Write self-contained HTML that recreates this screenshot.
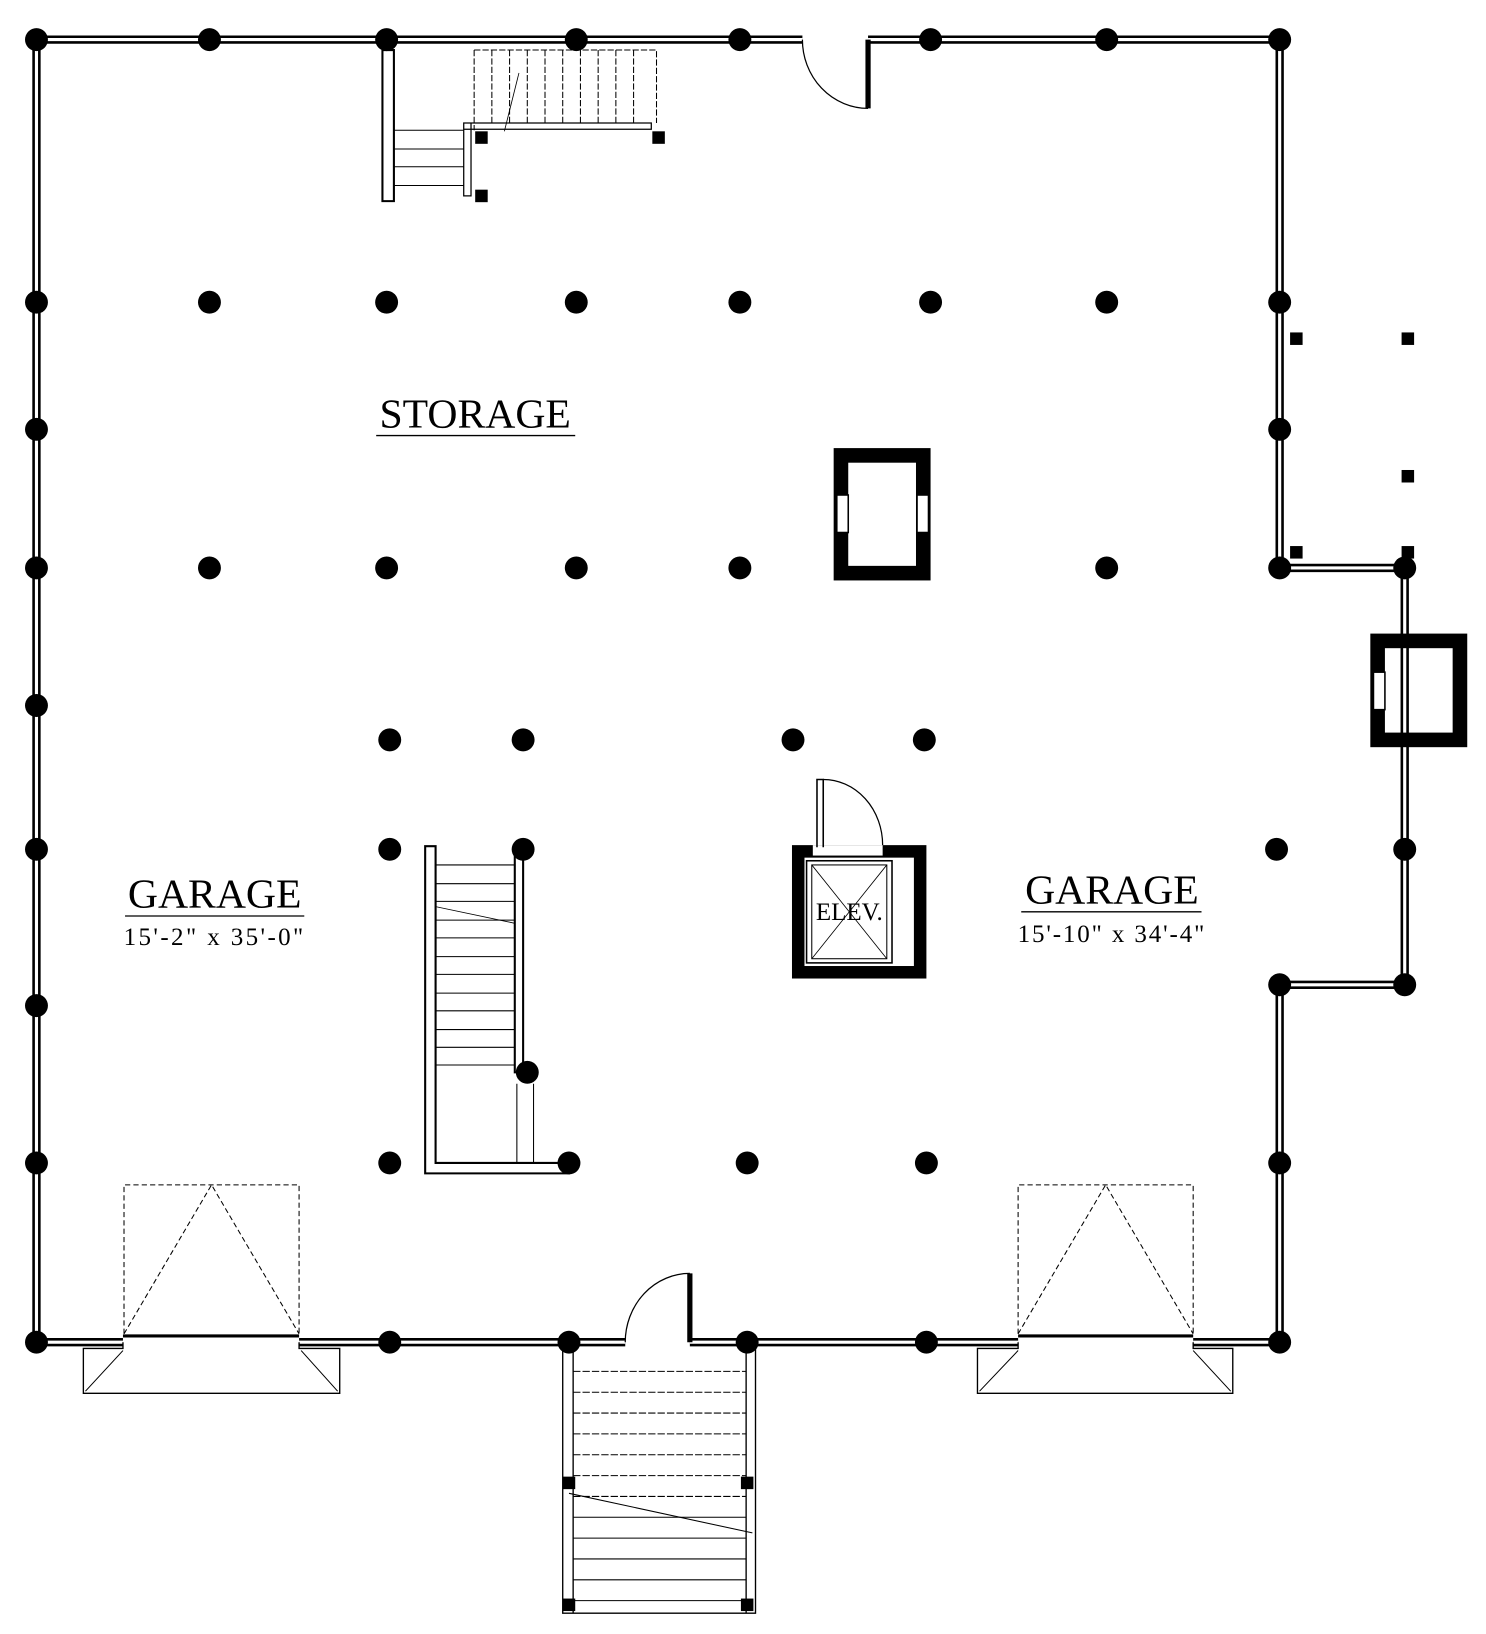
<!DOCTYPE html>
<html><head><style>html,body{margin:0;padding:0;background:#fff}svg{display:block}</style></head><body>
<svg width="1486" height="1634" viewBox="0 0 1426 1568" xmlns="http://www.w3.org/2000/svg">
<g fill="none" stroke-linecap="butt">
<g id="walls">
<path d="M35 38H770M833 38H1228V545H1348V945H1228V1288H1145M977 1288H662M600 1288H287M118 1288H35V38" stroke="#000" stroke-width="8"/>
<path d="M35 38H770M833 38H1228V545H1348V945H1228V1288H1145M977 1288H662M600 1288H287M118 1288H35V38" stroke="#fff" stroke-width="3"/>
</g>
<path d="M118 1282H287M977 1282H1145" stroke="#000" stroke-width="3"/>
<path d="M118 1288V1294H80V1337H326V1294H287V1288M977 1288V1294H938V1337H1183V1294H1145V1288" stroke="#000" stroke-width="1.3"/>
<path d="M82 1335L118 1296M324 1335L289 1296M940 1335L977 1296M1181 1335L1145 1296" stroke="#000" stroke-width="1"/>
<path d="M119 1280V1137H287V1280M119 1280L203 1137L287 1280M977 1280V1137H1145V1280M977 1280L1061 1137L1145 1280" stroke="#000" stroke-width="1" stroke-dasharray="5 3"/>
<path d="M833 38V104" stroke="#000" stroke-width="5"/>
<path d="M770 38A63 66 0 0 0 833 104" stroke="#000" stroke-width="1.2"/>
<path d="M662 1288V1222" stroke="#000" stroke-width="5"/>
<path d="M600 1288A62 66 0 0 1 662 1222" stroke="#000" stroke-width="1.2"/>
<path d="M367 48H378V193H367Z" stroke="#000" stroke-width="2"/>
<path d="M378 125H445M378 143H445M378 160H445M378 178H445" stroke="#000" stroke-width="1"/>
<path d="M455 48H630V118M455 48V125M472 48V118M489 48V118M506 48V118M523 48V118M540 48V118M557 48V118M574 48V118M591 48V118M608 48V118" stroke="#000" stroke-width="1" stroke-dasharray="6 2"/>
<path d="M445 118H625V124H445ZM445 118V188H452V118" stroke="#000" stroke-width="1.2"/>
<path d="M484 126L498 70" stroke="#000" stroke-width="0.8"/>
<path d="M408 812H418V1116H546V1126H408Z M494 812H502V1029H494Z" stroke="#000" stroke-width="2"/>
<path d="M418 830H494M418 848H494M418 865H494M418 883H494M418 900H494M418 918H494M418 935H494M418 953H494M418 970H494M418 988H494M418 1005H494M418 1022H494M496 1040V1116M512 1040V1116" stroke="#000" stroke-width="1"/>
<path d="M418 870L494 886" stroke="#000" stroke-width="0.8"/>
<path d="M540 1295H550V1548H540ZM716 1295H725V1548H716ZM540 1548H725" stroke="#000" stroke-width="1.3"/>
<path d="M550 1316H716M550 1336H716M550 1356H716M550 1376H716M550 1396H716M550 1416H716M550 1436H716" stroke="#000" stroke-width="1" stroke-dasharray="7 2"/>
<path d="M550 1456H716M550 1476H716M550 1496H716M550 1516H716M550 1536H716" stroke="#000" stroke-width="1"/>
<path d="M546 1433L722 1471" stroke="#000" stroke-width="1"/>
<rect x="807" y="437" width="79" height="113" stroke="#000" stroke-width="14"/>
<rect x="803" y="475" width="11" height="36" fill="#fff" stroke="#000" stroke-width="1.5"/>
<rect x="880" y="475" width="11" height="36" fill="#fff" stroke="#000" stroke-width="1.5"/>
<rect x="1322" y="615" width="79" height="95" stroke="#000" stroke-width="14"/>
<rect x="1318" y="645" width="11" height="36" fill="#fff" stroke="#000" stroke-width="1.5"/>
<rect x="766" y="817" width="117" height="116" stroke="#000" stroke-width="12"/>
<rect x="774" y="826" width="82" height="98" fill="#fff" stroke="#000" stroke-width="1.5"/>
<rect x="779" y="830" width="72" height="90" stroke="#000" stroke-width="1"/>
<path d="M779 830L851 920M851 830L779 920" stroke="#000" stroke-width="0.8"/>
<rect x="780" y="811" width="67" height="10" fill="#fff"/>
<path d="M784 813V748H790V813" stroke="#000" stroke-width="1.5"/>
<path d="M790 748A57 63 0 0 1 847 811" stroke="#000" stroke-width="1.2"/>
</g>
<g fill="#000">
<circle cx="35" cy="38" r="11"/><circle cx="201" cy="38" r="11"/><circle cx="371" cy="38" r="11"/><circle cx="553" cy="38" r="11"/><circle cx="710" cy="38" r="11"/><circle cx="893" cy="38" r="11"/><circle cx="1062" cy="38" r="11"/><circle cx="1228" cy="38" r="11"/>
<circle cx="35" cy="290" r="11"/><circle cx="201" cy="290" r="11"/><circle cx="371" cy="290" r="11"/><circle cx="553" cy="290" r="11"/><circle cx="710" cy="290" r="11"/><circle cx="893" cy="290" r="11"/><circle cx="1062" cy="290" r="11"/><circle cx="1228" cy="290" r="11"/>
<circle cx="35" cy="412" r="11"/><circle cx="1228" cy="412" r="11"/>
<circle cx="35" cy="545" r="11"/><circle cx="201" cy="545" r="11"/><circle cx="371" cy="545" r="11"/><circle cx="553" cy="545" r="11"/><circle cx="710" cy="545" r="11"/><circle cx="1062" cy="545" r="11"/><circle cx="1228" cy="545" r="11"/><circle cx="1348" cy="545" r="11"/>
<circle cx="35" cy="677" r="11"/>
<circle cx="374" cy="710" r="11"/><circle cx="502" cy="710" r="11"/><circle cx="761" cy="710" r="11"/><circle cx="887" cy="710" r="11"/>
<circle cx="35" cy="815" r="11"/><circle cx="374" cy="815" r="11"/><circle cx="502" cy="815" r="11"/><circle cx="1225" cy="815" r="11"/><circle cx="1348" cy="815" r="11"/>
<circle cx="1228" cy="945" r="11"/><circle cx="1348" cy="945" r="11"/><circle cx="35" cy="965" r="11"/>
<circle cx="506" cy="1029" r="11"/>
<circle cx="35" cy="1116" r="11"/><circle cx="374" cy="1116" r="11"/><circle cx="546" cy="1116" r="11"/><circle cx="717" cy="1116" r="11"/><circle cx="889" cy="1116" r="11"/><circle cx="1228" cy="1116" r="11"/>
<circle cx="35" cy="1288" r="11"/><circle cx="374" cy="1288" r="11"/><circle cx="546" cy="1288" r="11"/><circle cx="717" cy="1288" r="11"/><circle cx="889" cy="1288" r="11"/><circle cx="1228" cy="1288" r="11"/>
<rect x="1238" y="319" width="12" height="12"/><rect x="1345" y="319" width="12" height="12"/><rect x="1345" y="451" width="12" height="12"/><rect x="1238" y="524" width="12" height="12"/><rect x="1345" y="524" width="12" height="12"/>
<rect x="456" y="126" width="12" height="12"/><rect x="626" y="126" width="12" height="12"/><rect x="456" y="182" width="12" height="12"/>
<rect x="540" y="1417" width="12" height="12"/><rect x="711" y="1417" width="12" height="12"/><rect x="540" y="1534" width="12" height="12"/><rect x="711" y="1534" width="12" height="12"/>
</g>
<g font-family="'Liberation Serif',serif" fill="#000" text-anchor="middle">
<text x="456" y="410" font-size="40">STORAGE</text>
<line x1="361" y1="418" x2="552" y2="418" stroke="#000" stroke-width="1.3"/>
<text x="206" y="871" font-size="40">GARAGE</text>
<line x1="120" y1="879" x2="292" y2="879" stroke="#000" stroke-width="1.3"/>
<text x="206" y="907" font-size="24" letter-spacing="2.3">15'-2" x 35'-0"</text>
<text x="1067" y="867" font-size="40">GARAGE</text>
<line x1="980" y1="875" x2="1153" y2="875" stroke="#000" stroke-width="1.3"/>
<text x="1067" y="904" font-size="24" letter-spacing="1.8">15'-10" x 34'-4"</text>
<text x="815" y="883" font-size="24">ELEV.</text>
</g>
</svg>
</body></html>
